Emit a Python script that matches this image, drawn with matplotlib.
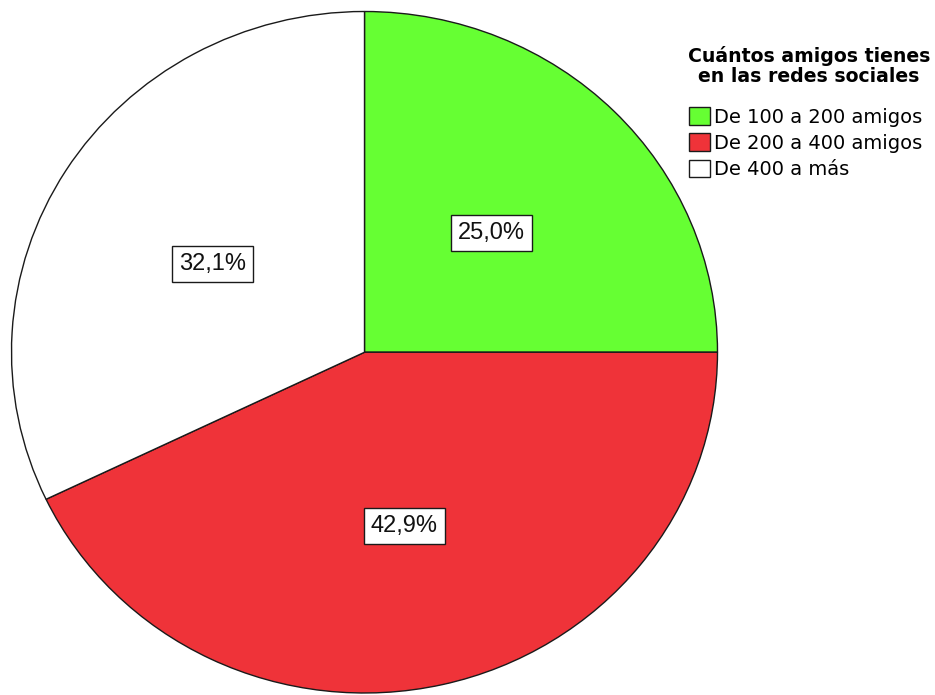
import matplotlib.pyplot as plt
import matplotlib.transforms as mtransforms

categories = ["De 100 a 200 amigos", "De 200 a 400 amigos", "De 400 a más"]
percentages = [25.0, 42.9, 32.1]
colors = ["#66FF33", "#EF3339", "#FFFFFF"]
legend_title = "Cuántos amigos tienes\nen las redes sociales"

W, H = 935, 695


def pct_label(p):
    # spanish style decimal comma
    return "{:.1f}%".format(p).replace(".", ",")


fig = plt.figure(figsize=(W / 100, H / 100), dpi=100)
# the pie in the original is slightly wider than tall, so no equal aspect
ax = fig.add_axes([11.5 / W, 2 / H, 706 / W, 681.5 / H])
wedges, texts, autotexts = ax.pie(
    percentages, colors=colors, startangle=90, counterclock=False,
    autopct=pct_label, pctdistance=0.51,
    wedgeprops=dict(edgecolor="#1a1a1a", linewidth=1.0),
    textprops=dict(family="Liberation Sans", fontsize=17, color="#111111"))
ax.set_aspect("auto")
ax.set_xlim(-1, 1)
ax.set_ylim(-1, 1)
for w in wedges:
    w.set_clip_on(False)
# labels sit a few pixels lower in the original
shift_down = mtransforms.offset_copy(ax.transData, fig=fig, x=0, y=-4, units="dots")
for t in autotexts:
    t.set_transform(shift_down)
    t.set_bbox(dict(boxstyle="square,pad=0.3", facecolor="white",
                    edgecolor="#1a1a1a", linewidth=1.0))

# title of the legend as its own text, the gap to the entries is bigger than legend allows
# (va=baseline puts the last line on that y)
fig.text(809 / W, 1 - 82.5 / H, legend_title, ha="center", va="baseline",
         multialignment="center", fontsize=13.6, fontweight="bold", linespacing=1.1)
fig.legend(wedges, categories, loc="upper left", bbox_to_anchor=(689 / W, 1 - 107 / H),
           frameon=False, fontsize=14, borderpad=0, borderaxespad=0,
           handlelength=1.08, handleheight=1.03, handletextpad=0.23, labelspacing=0.35)

fig.savefig("out.png", dpi=100)
